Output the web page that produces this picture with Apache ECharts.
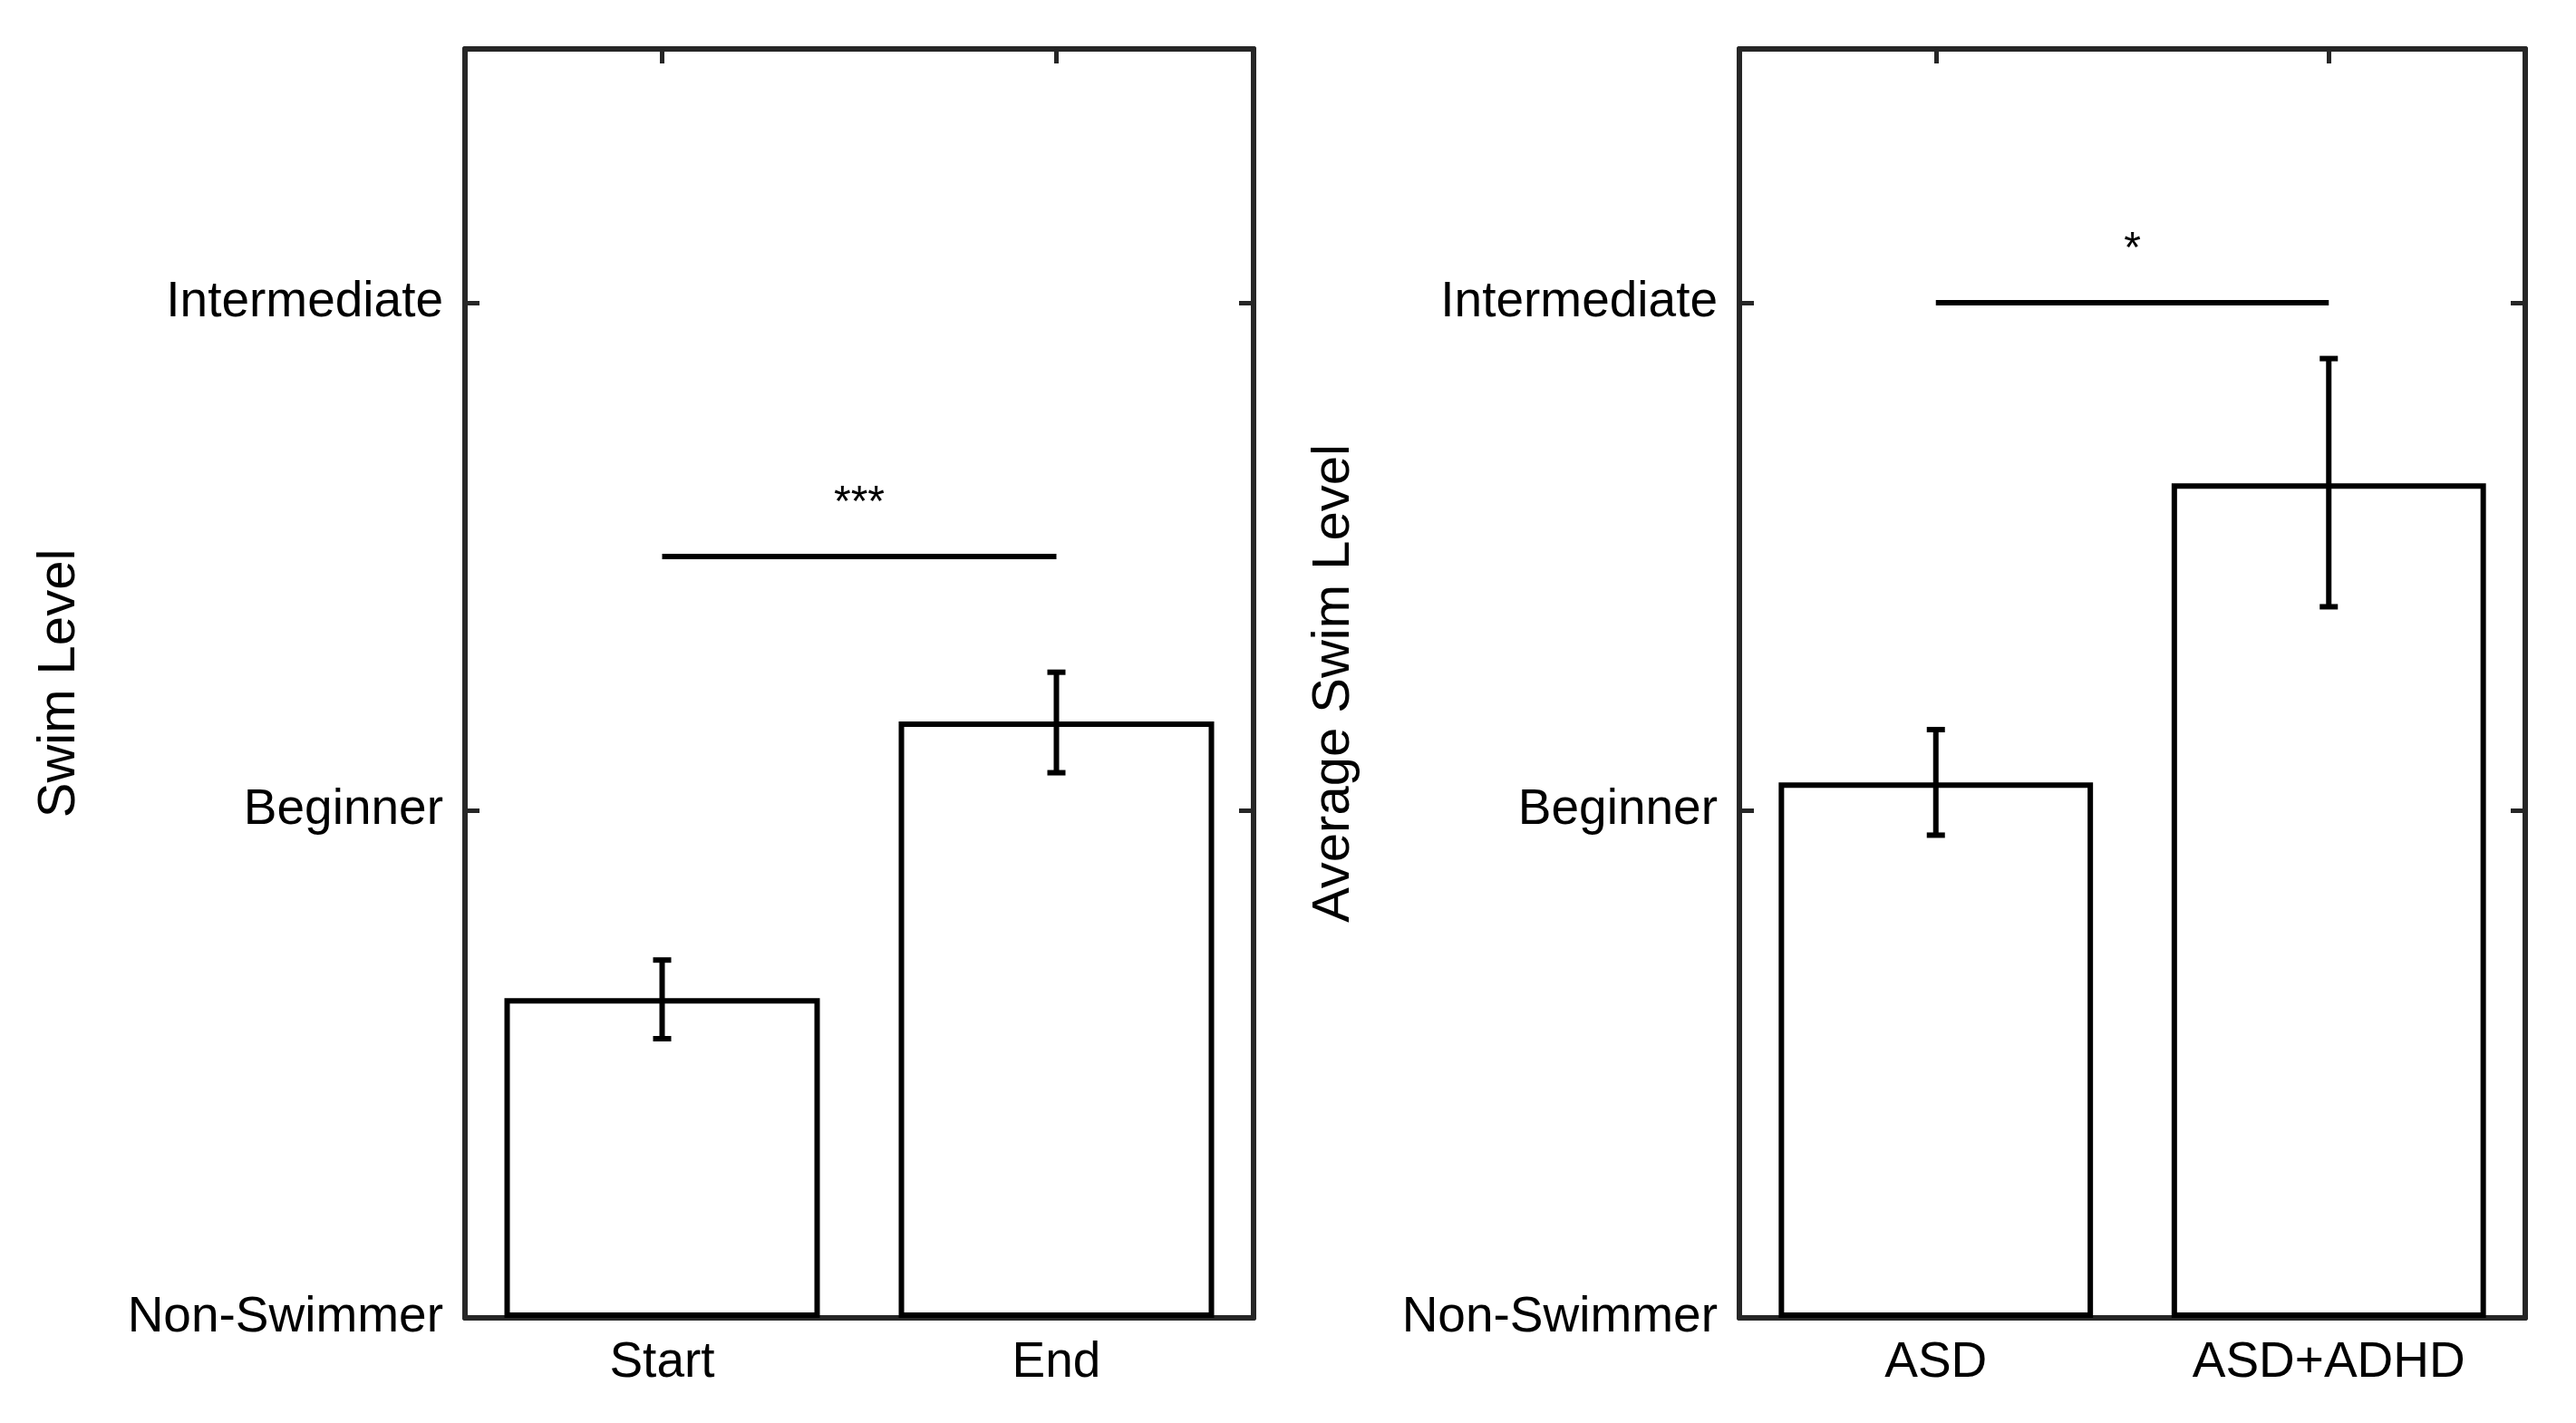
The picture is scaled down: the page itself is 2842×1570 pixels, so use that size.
<!DOCTYPE html>
<html>
<head>
<meta charset="utf-8">
<script src="https://cdn.jsdelivr.net/npm/echarts@6/dist/echarts.min.js"></script>
<style>html,body{margin:0;padding:0;background:#fff}#chart{width:2842px;height:1570px}</style>
</head>
<body>
<div id="chart"></div>
<script>
var levelLabels = ['Non-Swimmer', 'Beginner', 'Intermediate'];

var timeCats = ['Start', 'End'];
var timeMeans = [0.63, 1.175];
var timeLow = [0.55, 1.074];
var timeHigh = [0.705, 1.272];
var timeSig = { y: 1.5, text: '***' };

var groupCats = ['ASD', 'ASD+ADHD'];
var groupMeans = [1.055, 1.644];
var groupLow = [0.951, 1.401];
var groupHigh = [1.159, 1.89];
var groupSig = { y: 2.0, text: '*' };

var axisColor = '#262626';
var fontFamily = 'Liberation Sans, Arial, sans-serif';
var fontSize = 55;

var myChart = echarts.init(document.getElementById('chart'));

function xAxes(cats, gi) {
    var base = {
        type: 'category', data: cats, gridIndex: gi,
        axisLine: { show: true, onZero: false, lineStyle: { color: axisColor, width: 6 } },
        axisTick: { show: true, inside: true, alignWithLabel: true, length: 16, lineStyle: { color: axisColor, width: 5 } }
    };
    return [
        Object.assign({}, base, { position: 'bottom', axisLabel: { color: '#000', fontSize: fontSize, fontFamily: fontFamily, margin: 22 } }),
        Object.assign({}, base, { position: 'top', axisLabel: { show: false } })
    ];
}

function yAxes(name, gi) {
    var base = {
        type: 'value', gridIndex: gi, min: 0, max: 2.5, interval: 1,
        splitLine: { show: false },
        axisLine: { show: true, lineStyle: { color: axisColor, width: 6 } },
        axisTick: { show: true, inside: true, length: 16, lineStyle: { color: axisColor, width: 5 } }
    };
    return [
        Object.assign({}, base, {
            position: 'left', name: name, nameLocation: 'middle', nameGap: 418,
            nameTextStyle: { color: '#000', fontSize: 58, fontFamily: fontFamily },
            axisLabel: {
                color: '#000', fontSize: fontSize, fontFamily: fontFamily, margin: 24,
                formatter: function (v) { return levelLabels[v] || ''; }
            }
        }),
        Object.assign({}, base, { position: 'right', axisLabel: { show: false } })
    ];
}

function panelSeries(means, low, high, sig, xi, yi) {
    var errData = means.map(function (m, i) { return [i, low[i], high[i]]; });
    return [
        {
            type: 'bar', data: means, xAxisIndex: xi, yAxisIndex: yi,
            barWidth: '80%', silent: true,
            itemStyle: { color: '#fff', borderColor: '#000', borderWidth: 6 }
        },
        {
            type: 'custom', data: errData, xAxisIndex: xi, yAxisIndex: yi, z: 5,
            renderItem: function (params, api) {
                var lo = api.coord([api.value(0), api.value(1)]);
                var hi = api.coord([api.value(0), api.value(2)]);
                var c = 10;
                var st = { stroke: '#000', lineWidth: 6 };
                return { type: 'group', children: [
                    { type: 'line', shape: { x1: lo[0], y1: lo[1], x2: hi[0], y2: hi[1] }, style: st },
                    { type: 'line', shape: { x1: lo[0] - c, y1: lo[1], x2: lo[0] + c, y2: lo[1] }, style: st },
                    { type: 'line', shape: { x1: hi[0] - c, y1: hi[1], x2: hi[0] + c, y2: hi[1] }, style: st }
                ] };
            }
        },
        {
            type: 'custom', data: [[0, 1, sig.y]], xAxisIndex: xi, yAxisIndex: yi, z: 5,
            renderItem: function (params, api) {
                var a = api.coord([api.value(0), api.value(2)]);
                var b = api.coord([api.value(1), api.value(2)]);
                return { type: 'group', children: [
                    { type: 'line', shape: { x1: a[0], y1: a[1], x2: b[0], y2: b[1] }, style: { stroke: '#000', lineWidth: 6 } },
                    { type: 'text', x: (a[0] + b[0]) / 2, y: a[1] - 58, style: { text: sig.text, fill: '#000', fontSize: 48, fontFamily: fontFamily, align: 'center', verticalAlign: 'middle' } }
                ] };
            }
        }
    ];
}

var option = {
    backgroundColor: '#fff',
    animation: false,
    grid: [
        { left: 513, top: 54, width: 870, height: 1400 },
        { left: 1919, top: 54, width: 867, height: 1400 }
    ],
    xAxis: xAxes(timeCats, 0).concat(xAxes(groupCats, 1)),
    yAxis: yAxes('Swim Level', 0).concat(yAxes('Average Swim Level', 1)),
    series: panelSeries(timeMeans, timeLow, timeHigh, timeSig, 0, 0)
        .concat(panelSeries(groupMeans, groupLow, groupHigh, groupSig, 2, 2))
};
myChart.setOption(option);
</script>
</body>
</html>
